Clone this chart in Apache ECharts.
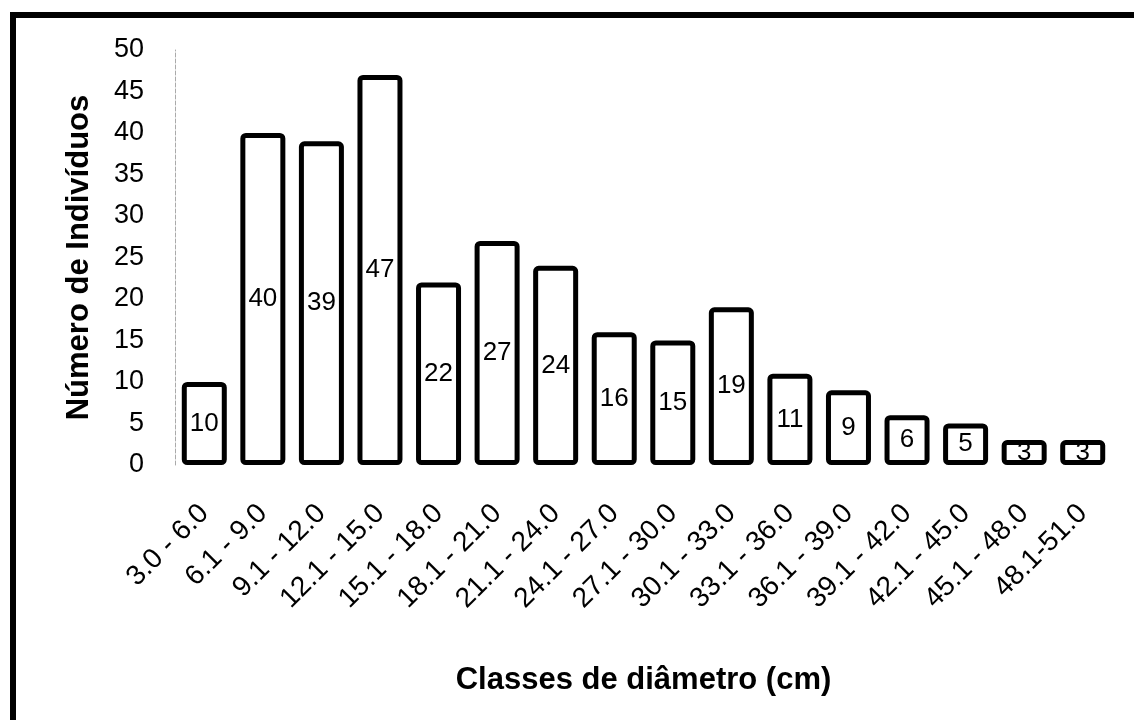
<!DOCTYPE html>
<html>
<head>
<meta charset="utf-8">
<script src="https://cdn.jsdelivr.net/npm/echarts@6/dist/echarts.min.js"></script>
<style>html,body{margin:0;padding:0;background:#fff}#c{width:1134px;height:720px}</style>
</head>
<body>
<div id="c"></div>
<script>
const categories = ["3.0 - 6.0","6.1 - 9.0","9.1 - 12.0","12.1 - 15.0","15.1 - 18.0","18.1 - 21.0","21.1 - 24.0","24.1 - 27.0","27.1 - 30.0","30.1 - 33.0","33.1 - 36.0","36.1 - 39.0","39.1 - 42.0","42.1 - 45.0","45.1 - 48.0","48.1-51.0"];
const values = [10,40,39,47,22,27,24,16,15,19,11,9,6,5,3,3];
const yTicks = {min:0, max:50, interval:5};
const xTitle = "Classes de diâmetro (cm)";
const yTitle = "Número de Indivíduos";

const chart = echarts.init(document.getElementById('c'), null, {renderer:'canvas'});
chart.setOption({
  backgroundColor:'#fff',
  animation:false,
  grid:{left:175, right:22, top:50, bottom:255, containLabel:false},
  graphic:[{type:'rect', shape:{x:13, y:15, width:1200, height:800}, style:{fill:'none', stroke:'#000', lineWidth:6}, z:100}],
  xAxis:{
    type:'category', data:categories,
    axisLine:{show:false}, axisTick:{show:false},
    axisLabel:{rotate:45, margin:44, color:'#000', fontSize:28, fontFamily:'Liberation Sans', interval:0},
    name:xTitle, nameLocation:'middle', nameGap:200,
    nameTextStyle:{color:'#000', fontSize:31, fontWeight:'bold', fontFamily:'Liberation Sans'}
  },
  yAxis:{
    type:'value', min:yTicks.min, max:yTicks.max, interval:yTicks.interval,
    axisLine:{show:true, lineStyle:{color:'#aaa', type:'dashed', width:1}},
    axisTick:{show:false}, splitLine:{show:false},
    axisLabel:{margin:31, color:'#000', fontSize:27, fontFamily:'Liberation Sans'},
    name:yTitle, nameLocation:'middle', nameGap:80, nameRotate:90,
    nameTextStyle:{color:'#000', fontSize:31, fontWeight:'bold', fontFamily:'Liberation Sans'}
  },
  series:[{
    type:'bar', data:values, barWidth:45,
    itemStyle:{color:'#fff', borderColor:'#000', borderWidth:5, borderRadius:3},
    label:{show:true, position:'inside', color:'#000', fontSize:26, fontFamily:'Liberation Sans'}
  }]
});
</script>
</body>
</html>
